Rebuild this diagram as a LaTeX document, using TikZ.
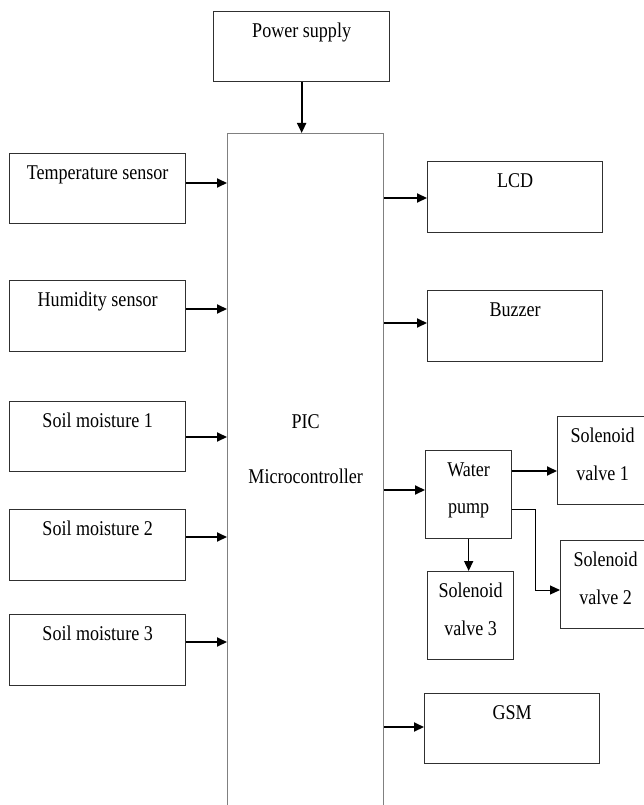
\documentclass[tikz,border=0pt]{standalone}
\usepackage{fontspec}
\setmainfont{Liberation Serif}[FakeStretch=0.86]
\usetikzlibrary{arrows.meta}
\definecolor{EDGE}{HTML}{303030}
\definecolor{RAIL}{HTML}{808080}
\newcommand{\twolines}[3][11pt]{\begin{tabular}[t]{@{}c@{}}#2\\[#1]#3\end{tabular}}

\begin{document}
\begin{tikzpicture}[
  x=1pt, y=-1pt,
  font=\fontsize{21}{27}\selectfont,
  blk/.style={draw=EDGE, line width=1.3pt, inner sep=0pt, anchor=north west,
    text height=26pt},
  wide/.style={blk, minimum width=176pt},
  small/.style={blk, minimum width=88pt, text depth=62pt},
  sig/.style={-{Triangle[length=10pt,width=9pt]}, line width=2pt},
  pipe/.style={-{Triangle[length=10pt,width=9pt]}, line width=1pt},
]
\useasboundingbox (0,0) rectangle (643,805);

% ---- supply and controller -----------------------------------------------
\node[wide, text depth=44pt] (pwr) at (213,11) {Power supply};
\node[blk, draw=RAIL, minimum width=156pt, text height=295pt, text depth=402pt]
  (pic) at (227,133) {\twolines[28pt]{PIC}{Microcontroller}};

% ---- inputs -----------------------------------------------------------------
\node[wide, text depth=44pt] (temp) at (9,153) {Temperature sensor};
\node[wide, text depth=45pt] (hum) at (9,280) {Humidity sensor};
\node[wide, text depth=44pt] (soil1) at (9,401) {Soil moisture 1};
\node[wide, text depth=45pt] (soil2) at (9,509) {Soil moisture 2};
\node[wide, text depth=45pt] (soil3) at (9,614) {Soil moisture 3};

% ---- outputs ----------------------------------------------------------------
\node[wide, minimum width=175pt, text depth=45pt] (lcd) at (427,161) {LCD};
\node[wide, minimum width=175pt, text depth=45pt] (buzz) at (427,290) {Buzzer};
\node[small, minimum width=86pt] (wp) at (425,450) {\twolines[10pt]{Water}{pump}};
\node[small, minimum width=90pt] (sv1) at (557,416) {\twolines{Solenoid}{valve 1}};
\node[small, minimum width=90pt] (sv2) at (560,540) {\twolines{Solenoid}{valve 2}};
\node[small, minimum width=86pt] (sv3) at (427,571) {\twolines{Solenoid}{valve 3}};
\node[wide, minimum width=175pt, text depth=44pt] (gsm) at (424,693) {GSM};

% ---- connectors -------------------------------------------------------------
\draw[sig] (pwr.south) -- (pwr.south |- pic.north);
\draw[sig] (temp.east |- 0,183) -- (pic.west |- 0,183);
\draw[sig] (hum.east |- 0,309) -- (pic.west |- 0,309);
\draw[sig] (soil1.east |- 0,437) -- (pic.west |- 0,437);
\draw[sig] (soil2.east |- 0,537) -- (pic.west |- 0,537);
\draw[sig] (soil3.east |- 0,642) -- (pic.west |- 0,642);
\draw[sig] (pic.east |- 0,198) -- (lcd.west |- 0,198);
\draw[sig] (pic.east |- 0,323) -- (buzz.west |- 0,323);
\draw[sig] (pic.east |- 0,490) -- (wp.west |- 0,490);
\draw[sig] (pic.east |- 0,727) -- (gsm.west |- 0,727);
\draw[sig] (wp.east |- 0,471) -- (sv1.west |- 0,471);
\draw[pipe] (wp.east |- 0,509) -- ++(23,0) |- (sv2.west |- 0,590);
\draw[sig, line width=1.5pt] (wp.south) -- (wp.south |- sv3.north);

\end{tikzpicture}
\end{document}
